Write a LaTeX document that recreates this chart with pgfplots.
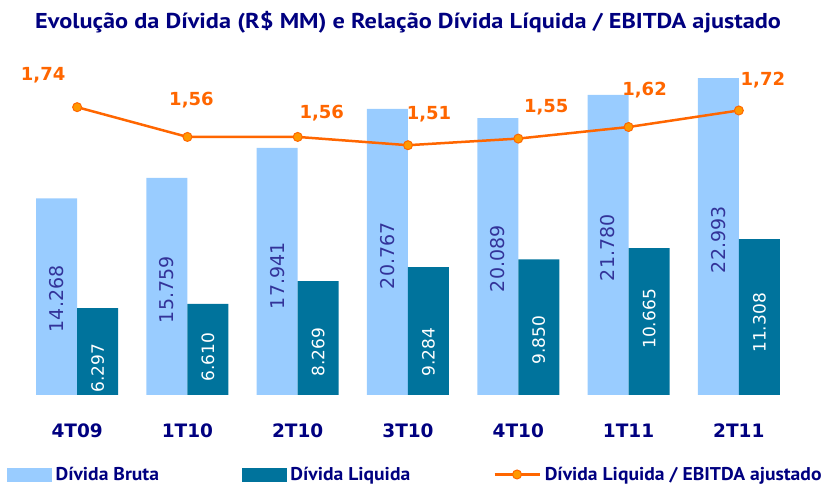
\documentclass[border=0pt]{standalone}
\usepackage{fontspec}
\setmainfont{PT Sans}
\newfontfamily\numfont{DejaVu Sans}
\usepackage{pgfplots}
\usepackage{pgfplotstable}
\pgfplotsset{compat=1.18}
\definecolor{lightb}{HTML}{99CCFF}
\definecolor{darkb}{HTML}{00739C}
\definecolor{orangeL}{HTML}{FF6600}
\definecolor{orangeM}{HTML}{FF9900}
\definecolor{navy}{HTML}{000080}
\definecolor{purp}{HTML}{333399}
\pgfplotsset{orangeleg/.style={legend image code/.code={\draw[mark repeat=2, mark phase=2, ##1] plot coordinates {(0pt,0pt) (22.5pt,0pt) (45pt,0pt)};}}}
\newcommand\wide[1]{\scalebox{1.06}[1]{#1}}

\pgfplotstableread{
x bruta bly blab liq lly llab ratio rlab rdx rdy
0 14268 6977 14.268 6297 1962 6.297 1.74 1,74 -34 32
1 15759 7631 15.759 6610 2762 6.610 1.56 1,56 4 37
2 17941 8648 17.941 8269 3125 8.269 1.56 1,56 24 24
3 20767 10102 20.767 9284 3125 9.284 1.51 1,51 21 31
4 20089 9884 20.089 9850 3997 9.850 1.55 1,55 28 31
5 21780 10683 21.780 10665 5523 10.665 1.62 1,62 16 37
6 22993 11265 22.993 11308 5233 11.308 1.72 1,72 24 30
}\data

\begin{document}
\begin{tikzpicture}
\useasboundingbox (0,0) rectangle (823pt,484pt);
\node[anchor=west, inner sep=0pt, text=navy, font=\fontsize{21.5}{22}\selectfont\bfseries]
  at (35pt,462pt) {\scalebox{1.13}[1]{Evolução da Dívida (R\$ MM) e Relação Dívida Líquida / EBITDA ajustado}};

\begin{axis}[
  at={(22pt,89pt)}, anchor=south west, scale only axis,
  width=772pt, height=333pt,
  xmin=-0.5, xmax=6.5, ymin=0, ymax=24165,
  axis x line*=bottom, hide y axis, x axis line style={draw=none},
  xtick={0,...,6}, xticklabels={4T09,1T10,2T10,3T10,4T10,1T11,2T11},
  major tick length=0pt,
  xticklabel style={font=\numfont\bfseries\fontsize{18.5}{19}\selectfont, text=navy, yshift=-25pt},
  clip=false,
]
\addplot[ybar, bar width=41pt, bar shift=-20.5pt, fill=lightb, draw=none] table[x=x, y=bruta]{\data};
\addplot[ybar, bar width=41pt, bar shift=20.5pt, fill=darkb, draw=none] table[x=x, y=liq]{\data};
\addplot[draw=none, nodes near coords, point meta=explicit symbolic,
  every node near coord/.style={xshift=-20.5pt, rotate=90, anchor=center, inner sep=0pt,
    text=purp, font=\numfont\fontsize{19}{19}\selectfont}]
  table[x=x, y=bly, meta=blab]{\data};
\addplot[draw=none, nodes near coords, point meta=explicit symbolic,
  every node near coord/.style={xshift=20.5pt, rotate=90, anchor=center, inner sep=0pt,
    text=white, font=\numfont\fontsize{17}{17}\selectfont}]
  table[x=x, y=lly, meta=llab]{\data};
\end{axis}

\begin{axis}[
  at={(22pt,89pt)}, anchor=south west, scale only axis,
  width=772pt, height=333pt,
  xmin=-0.5, xmax=6.5, ymin=0, ymax=2.013,
  hide axis, clip=false,
  legend columns=3,
  legend style={at={(-0.0194,-0.2387)}, anchor=west, draw=none, fill=none,
    inner sep=0pt, cells={anchor=west},
    font=\bfseries\fontsize{18.5}{18.5}\selectfont, text=navy,
    /tikz/every odd column/.append style={column sep=2pt},
    /tikz/every even column/.append style={column sep=81pt}},
]
\addlegendimage{legend image code/.code={\fill[lightb] (0pt,-6.5pt) rectangle (44pt,6.5pt);}}
\addlegendentry{\wide{Dívida Bruta}}
\addlegendimage{legend image code/.code={\fill[darkb] (0pt,-6.5pt) rectangle (44pt,6.5pt);}}
\addlegendentry{\wide{Dívida Liquida}}
\addplot[orangeL, line width=2.5pt, mark=*, mark size=4.5pt,
  mark options={fill=orangeM, draw=orangeL, line width=1pt},
  orangeleg,
  visualization depends on={\thisrow{rdx} \as \rdx},
  visualization depends on={\thisrow{rdy} \as \rdy},
  nodes near coords, point meta=explicit symbolic,
  every node near coord/.style={anchor=center, xshift=\rdx pt, yshift=\rdy pt,
    text=orangeL, font=\numfont\bfseries\fontsize{18}{18}\selectfont}]
  table[x=x, y=ratio, meta=rlab]{\data};
\addlegendentry{\wide{Dívida Liquida / EBITDA ajustado}}
\end{axis}
\end{tikzpicture}
\end{document}
